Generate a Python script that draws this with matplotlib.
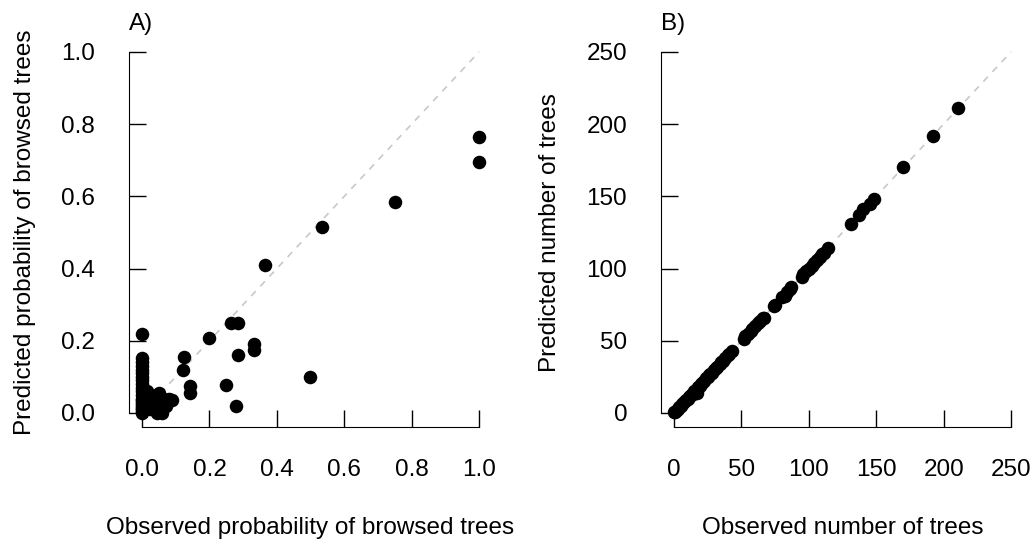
import matplotlib
matplotlib.use('Agg')
import matplotlib.pyplot as plt

plt.rcParams['font.family'] = ['Liberation Sans', 'DejaVu Sans']

# panel A: observed vs predicted probability of browsed trees
obs_prob = [1.0, 1.0, 0.75, 0.533, 0.364, 0.498, 0.2, 0.264, 0.286, 0.333, 0.333,
            0.286, 0.125, 0.123, 0.143, 0.143, 0.25, 0.278, 0.0,
            0.0, 0.0, 0.0, 0.0, 0.0, 0.0, 0.0, 0.0, 0.0, 0.0, 0.0, 0.0, 0.0,
            0.0, 0.0, 0.0, 0.0, 0.0, 0.0, 0.0,
            0.02, 0.03, 0.04, 0.05, 0.055, 0.06, 0.065, 0.09, 0.045, 0.015,
            0.01, 0.025, 0.035, 0.07, 0.08, 0.058]
pred_prob = [0.765, 0.695, 0.585, 0.515, 0.41, 0.10, 0.207, 0.248, 0.248, 0.19, 0.175,
             0.16, 0.155, 0.118, 0.075, 0.055, 0.077, 0.018, 0.22,
             0.152, 0.14, 0.13, 0.12, 0.11, 0.10, 0.09, 0.08, 0.07, 0.06, 0.05, 0.04,
             0.035, 0.03, 0.025, 0.02, 0.015, 0.01, 0.005, 0.0,
             0.04, 0.02, 0.05, 0.055, 0.035, 0.01, 0.04, 0.037, 0.0, 0.06,
             0.03, 0.01, 0.045, 0.02, 0.04, 0.0]

# panel B: observed vs predicted number of trees
obs_n = [0, 1, 2, 3, 4, 5, 6, 7, 8, 9, 10, 11, 12, 13, 14, 15, 16, 17, 18, 19, 20,
         21, 22, 24, 25, 26, 27, 28, 30, 31, 32, 34, 35, 36, 38, 40, 41, 43,
         52, 53, 55, 57, 58, 60, 62, 64, 66, 67, 74, 75, 80, 82, 84, 86, 87,
         95, 96, 98, 100, 102, 104, 106, 108, 110, 111, 114,
         131, 137, 140, 145, 148, 170, 192, 211]
pred_n = [1, 1, 2, 3, 4, 5, 6, 7, 8, 9, 10, 11, 12, 13, 13, 15, 16, 14, 18, 19, 20,
          21, 22, 24, 25, 26, 27, 28, 30, 31, 32, 34, 35, 36, 38, 40, 41, 43,
          51, 53, 55, 57, 58, 60, 62, 64, 66, 66, 74, 75, 80, 81, 84, 86, 87,
          94, 96, 98, 100, 102, 104, 106, 108, 110, 111, 114,
          131, 137, 141, 145, 148, 170, 192, 211]

FS = 17.5

fig = plt.figure(figsize=(10.35, 5.53), dpi=100)
axA = fig.add_axes([0.1242, 0.2271, 0.3517, 0.7052])
axB = fig.add_axes([0.6382, 0.2271, 0.3517, 0.7052])

def style(ax, lim, ticks, labels):
    pad = 0.04 * (lim[1] - lim[0])
    ax.set_xlim(lim[0] - pad, lim[1] + pad)
    ax.set_ylim(lim[0] - pad, lim[1] + pad)
    for s in ['top', 'right']:
        ax.spines[s].set_visible(False)
    ax.spines['left'].set_bounds(lim[0], lim[1])
    ax.spines['bottom'].set_bounds(lim[0], lim[1])
    ax.set_xticks(ticks)
    ax.set_yticks(ticks)
    ax.set_xticklabels(labels)
    ax.set_yticklabels(labels)
    ax.tick_params(direction='in', length=12, width=1, labelsize=FS)
    ax.tick_params(axis='y', pad=24)
    ax.tick_params(axis='x', pad=23)

axA.plot([0, 1], [0, 1], ls=(0, (4, 4)), color='#c8c8c8', lw=1.2, zorder=1)
axA.scatter(obs_prob, pred_prob, s=95, color='black', zorder=2, linewidths=0)
style(axA, (0, 1), [0, 0.2, 0.4, 0.6, 0.8, 1.0], ['0.0', '0.2', '0.4', '0.6', '0.8', '1.0'])
axA.set_xlabel('Observed probability of browsed trees', fontsize=FS, labelpad=26)
axA.set_ylabel('Predicted probability of browsed trees', fontsize=FS, labelpad=18)
axA.text(0.0, 1.02, 'A)', transform=axA.transAxes, fontsize=FS, va='baseline')

axB.plot([0, 250], [0, 250], ls=(0, (4, 4)), color='#c8c8c8', lw=1.2, zorder=1)
axB.scatter(obs_n, pred_n, s=95, color='black', zorder=2, linewidths=0)
style(axB, (0, 250), [0, 50, 100, 150, 200, 250], ['0', '50', '100', '150', '200', '250'])
axB.set_xlabel('Observed number of trees', fontsize=FS, labelpad=26)
axB.set_ylabel('Predicted number of trees', fontsize=FS, labelpad=18)
axB.text(0.0, 1.02, 'B)', transform=axB.transAxes, fontsize=FS, va='baseline')

fig.savefig('out.png', dpi=100)
